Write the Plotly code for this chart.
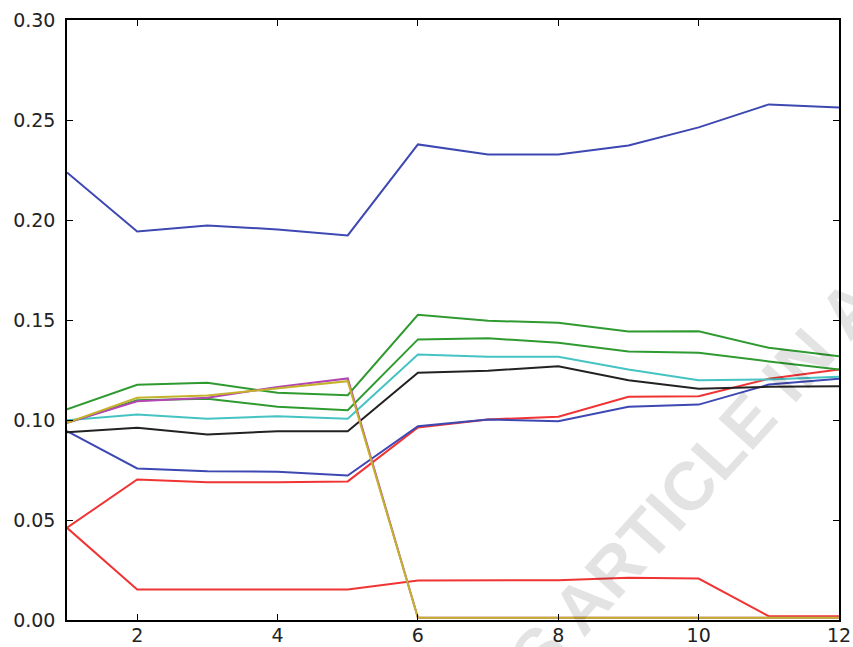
import plotly.graph_objects as go

x = [1, 2, 3, 4, 5, 6, 7, 8, 9, 10, 11, 12]

red_low = [0.0461, 0.0153, 0.0153, 0.0153, 0.0153, 0.0198, 0.0198, 0.0199, 0.0211, 0.0207, 0.0019, 0.0019]
red_mid = [0.0461, 0.0703, 0.0689, 0.0689, 0.0693, 0.0963, 0.1003, 0.1016, 0.1116, 0.1119, 0.1206, 0.1253]
blue_low = [0.0944, 0.0758, 0.0744, 0.0741, 0.0722, 0.0969, 0.1002, 0.0994, 0.1066, 0.1077, 0.1177, 0.1206]
black = [0.0939, 0.0961, 0.0928, 0.0944, 0.0944, 0.1236, 0.1246, 0.1269, 0.1199, 0.1156, 0.1166, 0.1169]
cyan = [0.0999, 0.1027, 0.1006, 0.1019, 0.1006, 0.1328, 0.1316, 0.1316, 0.1253, 0.1199, 0.1203, 0.1216]
green_low = [0.0986, 0.1099, 0.1106, 0.1066, 0.1049, 0.1403, 0.1409, 0.1386, 0.1343, 0.1336, 0.1293, 0.1253]
green_up = [0.1053, 0.1176, 0.1186, 0.1136, 0.1124, 0.1526, 0.1496, 0.1486, 0.1443, 0.1444, 0.1361, 0.1319]
blue_top = [0.2238, 0.1943, 0.1973, 0.1953, 0.1923, 0.2378, 0.2328, 0.2328, 0.2373, 0.2463, 0.2578, 0.2563]
magenta = [0.0986, 0.1094, 0.1111, 0.1165, 0.1208, 0.0011, 0.0011, 0.0011, 0.0011, 0.0011, 0.0011, 0.0011]
yellow = [0.0986, 0.1111, 0.1123, 0.1160, 0.1194, 0.0011, 0.0011, 0.0011, 0.0011, 0.0011, 0.0011, 0.0011]

watermark = "IS ARTICLE IN A"

series = [
    (red_low, "#f03434"),
    (red_mid, "#f03434"),
    (blue_low, "#3e48b2"),
    (black, "#222222"),
    (cyan, "#45c3c3"),
    (green_low, "#2f9a30"),
    (green_up, "#2f9a30"),
    (blue_top, "#3e48b2"),
    (magenta, "#b445b4"),
    (yellow, "#c4b22a"),
]

fig = go.Figure()
for ys, col in series:
    fig.add_trace(go.Scatter(x=x, y=ys, mode="lines", line=dict(color=col, width=2),
                             showlegend=False, cliponaxis=False))

fig.add_annotation(
    text="<b>" + watermark + "</b>", xref="paper", yref="paper", x=0.805, y=0.223,
    xanchor="center", yanchor="middle", textangle=-48, showarrow=False,
    font=dict(family="Liberation Sans", size=68, color="rgba(0,0,0,0.11)"),
)

axis_common = dict(
    showline=True, mirror="ticks", linecolor="black", linewidth=1.5,
    ticks="inside", ticklen=6, tickwidth=1, tickcolor="black",
    showgrid=False, zeroline=False, automargin=False,
    tickfont=dict(family="DejaVu Sans", size=19, color="#222222"),
)

fig.update_xaxes(range=[1, 12], tick0=0, dtick=2, ticklabelstandoff=-3, **axis_common)
fig.update_yaxes(range=[0, 0.30], tick0=0, dtick=0.05, tickformat=".2f",
                 ticklabelstandoff=6, **axis_common)

fig.update_layout(
    width=853, height=647,
    margin=dict(l=67, r=14, t=20, b=27),
    paper_bgcolor="white", plot_bgcolor="white",
)

fig.write_html("out.html", config={"displayModeBar": False},
               post_script="document.body.style.margin='0';document.body.style.overflow='hidden';")
